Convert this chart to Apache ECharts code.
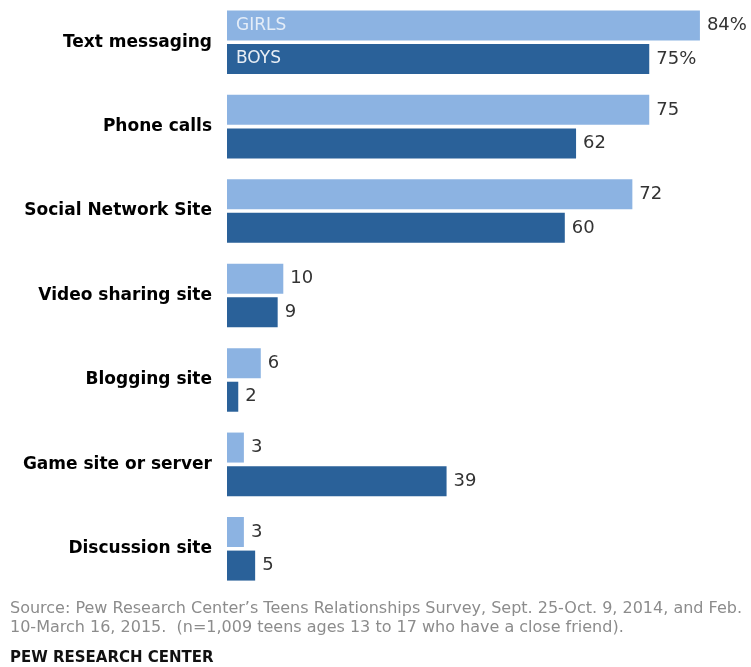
<!DOCTYPE html>
<html>
<head>
<meta charset="utf-8">
<script src="https://cdn.jsdelivr.net/npm/echarts@6/dist/echarts.min.js"></script>
<style>
  html, body { margin: 0; padding: 0; background: #fff; }
  #chart { width: 751px; height: 667px; }
</style>
</head>
<body>
<div id="chart"></div>
<script>
// chart data
let categories = ['Text messaging', 'Phone calls', 'Social Network Site', 'Video sharing site',
    'Blogging site', 'Game site or server', 'Discussion site'];
let girls = [84, 75, 72, 10, 6, 3, 3];
let boys = [75, 62, 60, 9, 2, 39, 5];
let seriesNames = ['GIRLS', 'BOYS'];
let sourceLines = [
    'Source: Pew Research Center\u2019s Teens Relationships Survey, Sept. 25-Oct. 9, 2014, and Feb.',
    '10-March 16, 2015.  (n=1,009 teens ages 13 to 17 who have a close friend).'
];
let credit = 'PEW RESEARCH CENTER';

let lightBlue = '#8cb3e2';
let darkBlue = '#2a6199';

// value labels: first row gets a percent sign
function valueLabel(p) {
    return p.dataIndex === 0 ? p.value + '%' : p.value;
}

// name labels only on the first row, drawn on a hidden second axis pair
function nameOnly(arr) {
    return arr.map(function (v, i) { return i === 0 ? v : '-'; });
}

let barBase = {
    type: 'bar',
    barWidth: 30,
    barGap: '12%',
    silent: true
};

let option = {
    animation: false,
    grid: {
        left: 227,
        top: -4,
        width: 506.7,
        height: 595
    },
    xAxis: [{
        type: 'value',
        min: 0,
        max: 90,
        show: false
    }, {
        type: 'value',
        min: 0,
        max: 90,
        show: false
    }],
    yAxis: [{
        type: 'category',
        data: categories,
        inverse: true,
        axisLine: { show: false },
        axisTick: { show: false },
        splitLine: { show: false },
        axisLabel: {
            margin: 15,
            fontFamily: 'DejaVu Sans',
            fontWeight: 'bold',
            fontSize: 17,
            color: '#000'
        }
    }, {
        type: 'category',
        data: categories,
        inverse: true,
        show: false
    }],
    series: [
        Object.assign({}, barBase, {
            name: seriesNames[0],
            data: girls,
            itemStyle: { color: lightBlue },
            label: {
                show: true,
                position: 'right',
                distance: 7,
                formatter: valueLabel,
                fontFamily: 'DejaVu Sans',
                fontSize: 18,
                color: '#333'
            }
        }),
        Object.assign({}, barBase, {
            name: seriesNames[1],
            data: boys,
            itemStyle: { color: darkBlue },
            label: {
                show: true,
                position: 'right',
                distance: 7,
                formatter: valueLabel,
                fontFamily: 'DejaVu Sans',
                fontSize: 18,
                color: '#333'
            }
        }),
        Object.assign({}, barBase, {
            name: seriesNames[0] + ' label',
            xAxisIndex: 1,
            yAxisIndex: 1,
            data: nameOnly(girls),
            itemStyle: { color: 'rgba(0,0,0,0)' },
            label: {
                show: true,
                position: 'insideLeft',
                distance: 9,
                formatter: seriesNames[0],
                fontFamily: 'DejaVu Sans',
                fontSize: 17,
                color: '#e4edf8'
            }
        }),
        Object.assign({}, barBase, {
            name: seriesNames[1] + ' label',
            xAxisIndex: 1,
            yAxisIndex: 1,
            data: nameOnly(boys),
            itemStyle: { color: 'rgba(0,0,0,0)' },
            label: {
                show: true,
                position: 'insideLeft',
                distance: 9,
                formatter: seriesNames[1],
                fontFamily: 'DejaVu Sans',
                fontSize: 17,
                color: '#e8eef5'
            }
        })
    ],
    graphic: [{
        type: 'text',
        left: 10,
        top: 599,
        style: {
            text: sourceLines.join('\n'),
            fontFamily: 'DejaVu Sans',
            fontSize: 16,
            lineHeight: 19,
            fill: '#8c8c8c'
        }
    }, {
        type: 'text',
        left: 10,
        top: 651,
        style: {
            text: credit,
            fontFamily: 'DejaVu Sans',
            fontWeight: 'bold',
            fontSize: 15,
            fill: '#111'
        }
    }]
};

let myChart = echarts.init(document.getElementById('chart'));
myChart.setOption(option);
</script>
</body>
</html>
